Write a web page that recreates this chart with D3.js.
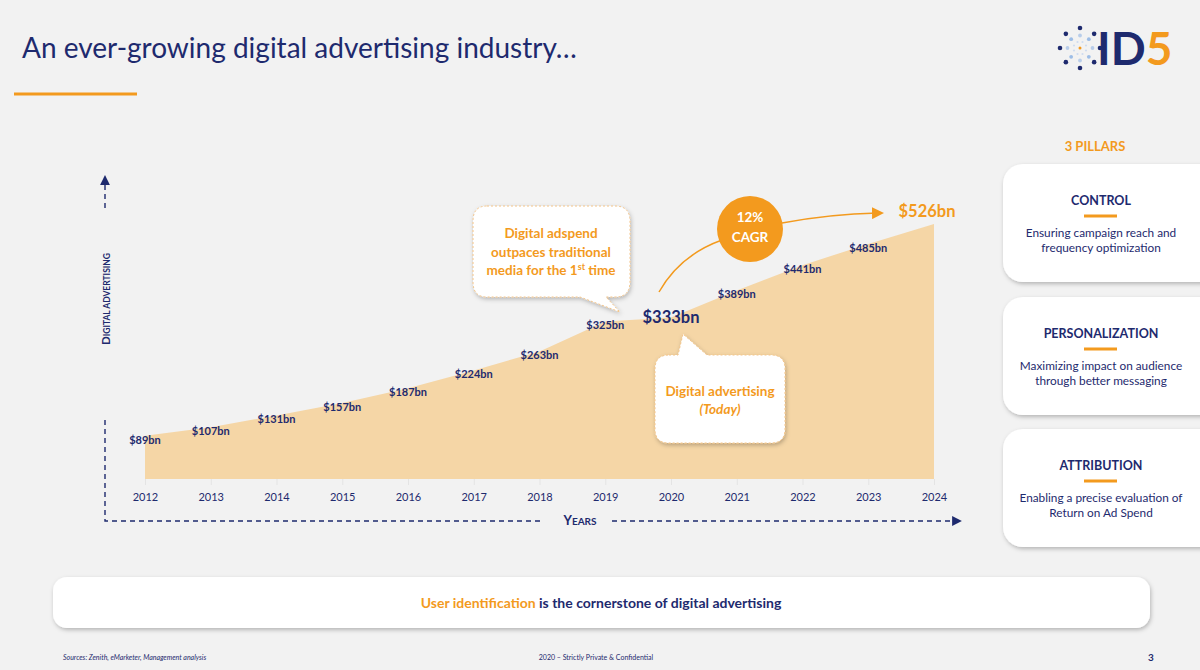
<!DOCTYPE html>
<html>
<head>
<meta charset="utf-8">
<script src="https://cdn.jsdelivr.net/npm/d3@7"></script>
<style>
  html, body { margin: 0; padding: 0; background: #f2f2f2; }
  svg { display: block; font-family: Lato, "Open Sans", sans-serif; }
</style>
</head>
<body>
<div id="chart"></div>
<script>
(function(){
  'use strict';

  // data
  var years = [2012, 2013, 2014, 2015, 2016, 2017, 2018, 2019, 2020, 2021, 2022, 2023, 2024];
  var spend = [89, 107, 131, 157, 187, 224, 263, 325, 333, 389, 441, 485, 526];
  var pillarTitles = ['CONTROL', 'PERSONALIZATION', 'ATTRIBUTION'];
  var pillarText = [
    ['Ensuring campaign reach and', 'frequency optimization'],
    ['Maximizing impact on audience', 'through better messaging'],
    ['Enabling a precise evaluation of', 'Return on Ad Spend']
  ];

  var navy = '#1e2a6e',
      orange = '#f39a1e',
      sand = '#f5d6a6';

  var w = 1200, h = 670;
  var svg = d3.select('#chart').append('svg')
    .attr('width', w)
    .attr('height', h);

  var defs = svg.append('defs');
  var f = defs.append('filter').attr('id', 'shadow')
    .attr('x', '-10%').attr('y', '-10%').attr('width', '130%').attr('height', '140%');
  f.append('feDropShadow')
    .attr('dx', 1).attr('dy', 2).attr('stdDeviation', 2)
    .attr('flood-color', '#000').attr('flood-opacity', 0.25);
  defs.append('marker').attr('id', 'arrNavy')
    .attr('viewBox', '0 0 10 10').attr('refX', 5).attr('refY', 5)
    .attr('markerWidth', 7).attr('markerHeight', 7).attr('orient', 'auto')
    .append('path').attr('d', 'M0,0L10,5L0,10z').attr('fill', navy);
  defs.append('marker').attr('id', 'arrOrange')
    .attr('viewBox', '0 0 10 10').attr('refX', 5).attr('refY', 5)
    .attr('markerWidth', 8).attr('markerHeight', 8).attr('orient', 'auto')
    .append('path').attr('d', 'M0,0L10,5L0,10z').attr('fill', orange);

  // header
  svg.append('text')
    .attr('x', 22).attr('y', 58)
    .attr('font-size', 28)
    .attr('fill', navy)
    .text('An ever-growing digital advertising industry…');
  svg.append('line')
    .attr('x1', 14).attr('x2', 137).attr('y1', 94).attr('y2', 94)
    .attr('stroke', orange).attr('stroke-width', 3);

  // logo
  var logo = svg.append('g').attr('transform', 'translate(1080,48)');
  d3.range(8).forEach(function(i) {
    var a = i * Math.PI / 4;
    logo.append('circle').attr('cx', 20 * Math.cos(a)).attr('cy', 20 * Math.sin(a))
      .attr('r', 2.3).attr('fill', navy);
    logo.append('circle').attr('cx', 12.5 * Math.cos(a)).attr('cy', 12.5 * Math.sin(a))
      .attr('r', 1.9).attr('fill', i % 2 ? '#9dbde6' : '#b8cdea');
    logo.append('circle').attr('cx', 6.5 * Math.cos(a + Math.PI / 8)).attr('cy', 6.5 * Math.sin(a + Math.PI / 8))
      .attr('r', 1.1).attr('fill', '#cfdcf0');
  });
  logo.append('circle').attr('r', 1.5).attr('fill', orange);
  var lt = svg.append('text').attr('x', 1097).attr('y', 65)
    .attr('font-size', 46).attr('font-weight', 700);
  lt.append('tspan').attr('fill', navy).text('ID');
  lt.append('tspan').attr('fill', orange).text('5');

  // chart scales
  var x = d3.scalePoint()
    .domain(years)
    .range([145, 934]);
  var y = d3.scaleLinear()
    .domain([0, 526])
    .range([479, 224]);

  var data = years.map(function(yr, i) { return {year: yr, v: spend[i]}; });

  svg.append('path')
    .datum(data)
    .attr('fill', sand)
    .attr('d', d3.area()
      .x(function(d) { return x(d.year); })
      .y0(y(0))
      .y1(function(d) { return y(d.v); }));

  var xAxis = d3.axisBottom(x).tickSize(6).tickPadding(8);
  var gx = svg.append('g')
    .attr('transform', 'translate(0,' + y(0) + ')')
    .call(xAxis);
  gx.select('.domain').remove();
  gx.selectAll('.tick line').attr('stroke', '#e4e4e4');
  gx.selectAll('.tick text')
    .attr('fill', navy)
    .attr('font-size', 11)
    .attr('font-family', 'Lato, sans-serif');

  // axis arrows (dashed)
  var dash = '5,4';
  svg.append('line').attr('x1', 105).attr('x2', 105).attr('y1', 208).attr('y2', 180)
    .attr('stroke', navy).attr('stroke-width', 1.4).attr('stroke-dasharray', dash)
    .attr('marker-end', 'url(#arrNavy)');
  svg.append('path').attr('d', 'M105,420V521H540')
    .attr('fill', 'none').attr('stroke', navy).attr('stroke-width', 1.4)
    .attr('stroke-dasharray', dash);
  svg.append('line').attr('x1', 612).attr('x2', 957).attr('y1', 521).attr('y2', 521)
    .attr('stroke', navy).attr('stroke-width', 1.4).attr('stroke-dasharray', dash)
    .attr('marker-end', 'url(#arrNavy)');

  var yl = svg.append('text')
    .attr('transform', 'translate(110,299) rotate(-90)')
    .attr('text-anchor', 'middle')
    .attr('fill', navy).attr('font-weight', 700);
  yl.append('tspan').attr('font-size', 11.5).text('D');
  yl.append('tspan').attr('font-size', 8.5).text('IGITAL ADVERTISING');
  var xl = svg.append('text')
    .attr('x', 580).attr('y', 525)
    .attr('text-anchor', 'middle')
    .attr('fill', navy).attr('font-weight', 700);
  xl.append('tspan').attr('font-size', 13).text('Y');
  xl.append('tspan').attr('font-size', 10).text('EARS');

  // value labels
  svg.selectAll('.val')
    .data(data)
    .enter()
    .append('text')
    .attr('class', 'val')
    .attr('text-anchor', 'middle')
    .attr('dominant-baseline', 'middle')
    .attr('font-weight', 700)
    .attr('x', function(d, i) { return i === data.length - 1 ? x(d.year) - 7 : x(d.year); })
    .attr('y', function(d, i) {
      if (i === data.length - 1) return y(d.v) - 11;
      if (d.year === 2020) return y(d.v) + 1;
      return y(d.v) + 5;
    })
    .attr('font-size', function(d) { return d.year === 2020 || d.year === 2024 ? 16.5 : 11; })
    .attr('fill', function(d) { return d.year === 2024 ? orange : navy; })
    .text(function(d) { return '$' + d.v + 'bn'; });

  // callout: digital adspend outpaces traditional
  var c1 = svg.append('g').attr('filter', 'url(#shadow)');
  c1.append('path')
    .attr('d', 'M487,206H615Q630,206 630,221V282Q630,297 615,297H606L620,312L580,297H487Q473,297 473,282V221Q473,206 487,206Z')
    .attr('fill', '#fff').attr('stroke', '#f3c387').attr('stroke-width', 1).attr('stroke-dasharray', '2,2');
  var c1t = svg.append('text').attr('text-anchor', 'middle').attr('fill', orange)
    .attr('font-weight', 700).attr('font-size', 13.5);
  c1t.append('tspan').attr('x', 551).attr('y', 238).text('Digital adspend');
  c1t.append('tspan').attr('x', 551).attr('y', 257).text('outpaces traditional');
  c1t.append('tspan').attr('x', 551).attr('y', 275).text('media for the 1');
  c1t.append('tspan').attr('font-size', 9).attr('dy', -5).text('st');
  c1t.append('tspan').attr('dy', 5).text(' time');

  // callout: today
  var c2 = svg.append('g').attr('filter', 'url(#shadow)');
  c2.append('path')
    .attr('d', 'M669,355H678L683,334L707,355H771Q785,355 785,369V429Q785,443 771,443H669Q655,443 655,429V369Q655,355 669,355Z')
    .attr('fill', '#fff').attr('stroke', '#f3c387').attr('stroke-width', 1).attr('stroke-dasharray', '2,2');
  svg.append('text').attr('x', 720).attr('y', 396).attr('text-anchor', 'middle')
    .attr('fill', orange).attr('font-weight', 700).attr('font-size', 13.5)
    .text('Digital advertising');
  svg.append('text').attr('x', 720).attr('y', 414).attr('text-anchor', 'middle')
    .attr('fill', orange).attr('font-weight', 700).attr('font-style', 'italic').attr('font-size', 13.5)
    .text('(Today)');

  // CAGR arc
  svg.append('path').attr('d', 'M659,292Q680,255 722,240')
    .attr('fill', 'none').attr('stroke', orange).attr('stroke-width', 1.5);
  svg.append('path').attr('d', 'M782,223Q830,214 878,213')
    .attr('fill', 'none').attr('stroke', orange).attr('stroke-width', 1.5)
    .attr('marker-end', 'url(#arrOrange)');
  svg.append('circle').attr('cx', 750).attr('cy', 229).attr('r', 33).attr('fill', orange);
  svg.append('text').attr('x', 750).attr('y', 222).attr('text-anchor', 'middle')
    .attr('fill', '#fff').attr('font-weight', 700).attr('font-size', 13.5).text('12%');
  svg.append('text').attr('x', 750).attr('y', 242).attr('text-anchor', 'middle')
    .attr('fill', '#fff').attr('font-weight', 700).attr('font-size', 13.5).text('CAGR');

  // pillars
  svg.append('text').attr('x', 1095).attr('y', 151).attr('text-anchor', 'middle')
    .attr('fill', orange).attr('font-weight', 700).attr('font-size', 13).text('3 PILLARS');
  var cardY = [164, 297, 429];
  var cards = svg.selectAll('.pillar')
    .data(pillarTitles)
    .enter()
    .append('g')
    .attr('class', 'pillar')
    .attr('transform', function(d, i) { return 'translate(1003,' + cardY[i] + ')'; });
  cards.append('rect')
    .attr('width', 220).attr('height', 118).attr('rx', 20)
    .attr('fill', '#fff').attr('filter', 'url(#shadow)');
  cards.append('text')
    .attr('x', 98).attr('y', 41).attr('text-anchor', 'middle')
    .attr('fill', navy).attr('font-weight', 700).attr('font-size', 12.5)
    .text(function(d) { return d; });
  cards.append('line')
    .attr('x1', 81).attr('x2', 114).attr('y1', 52).attr('y2', 52)
    .attr('stroke', orange).attr('stroke-width', 3);
  cards.each(function(d, i) {
    var t = d3.select(this).append('text')
      .attr('text-anchor', 'middle').attr('fill', navy).attr('font-size', 11.8);
    pillarText[i].forEach(function(line, j) {
      t.append('tspan').attr('x', 98).attr('y', 73 + j * 15).text(line);
    });
  });

  // bottom banner
  svg.append('rect').attr('x', 53).attr('y', 577).attr('width', 1097).attr('height', 51)
    .attr('rx', 14).attr('fill', '#fff').attr('filter', 'url(#shadow)');
  var bt = svg.append('text').attr('x', 601).attr('y', 608).attr('text-anchor', 'middle')
    .attr('font-weight', 700).attr('font-size', 14);
  bt.append('tspan').attr('fill', orange).text('User identification');
  bt.append('tspan').attr('fill', navy).text(' is the cornerstone of digital advertising');

  // footer
  svg.append('text').attr('x', 63).attr('y', 660).attr('font-size', 7).attr('font-style', 'italic')
    .attr('fill', navy).text('Sources: Zenith, eMarketer, Management analysis');
  svg.append('text').attr('x', 596).attr('y', 660).attr('text-anchor', 'middle').attr('font-size', 7)
    .attr('fill', navy).text('2020 – Strictly Private & Confidential');
  svg.append('text').attr('x', 1151).attr('y', 661).attr('text-anchor', 'middle').attr('font-size', 10)
    .attr('font-weight', 700).attr('fill', navy).text('3');

}());
</script>
</body>
</html>
